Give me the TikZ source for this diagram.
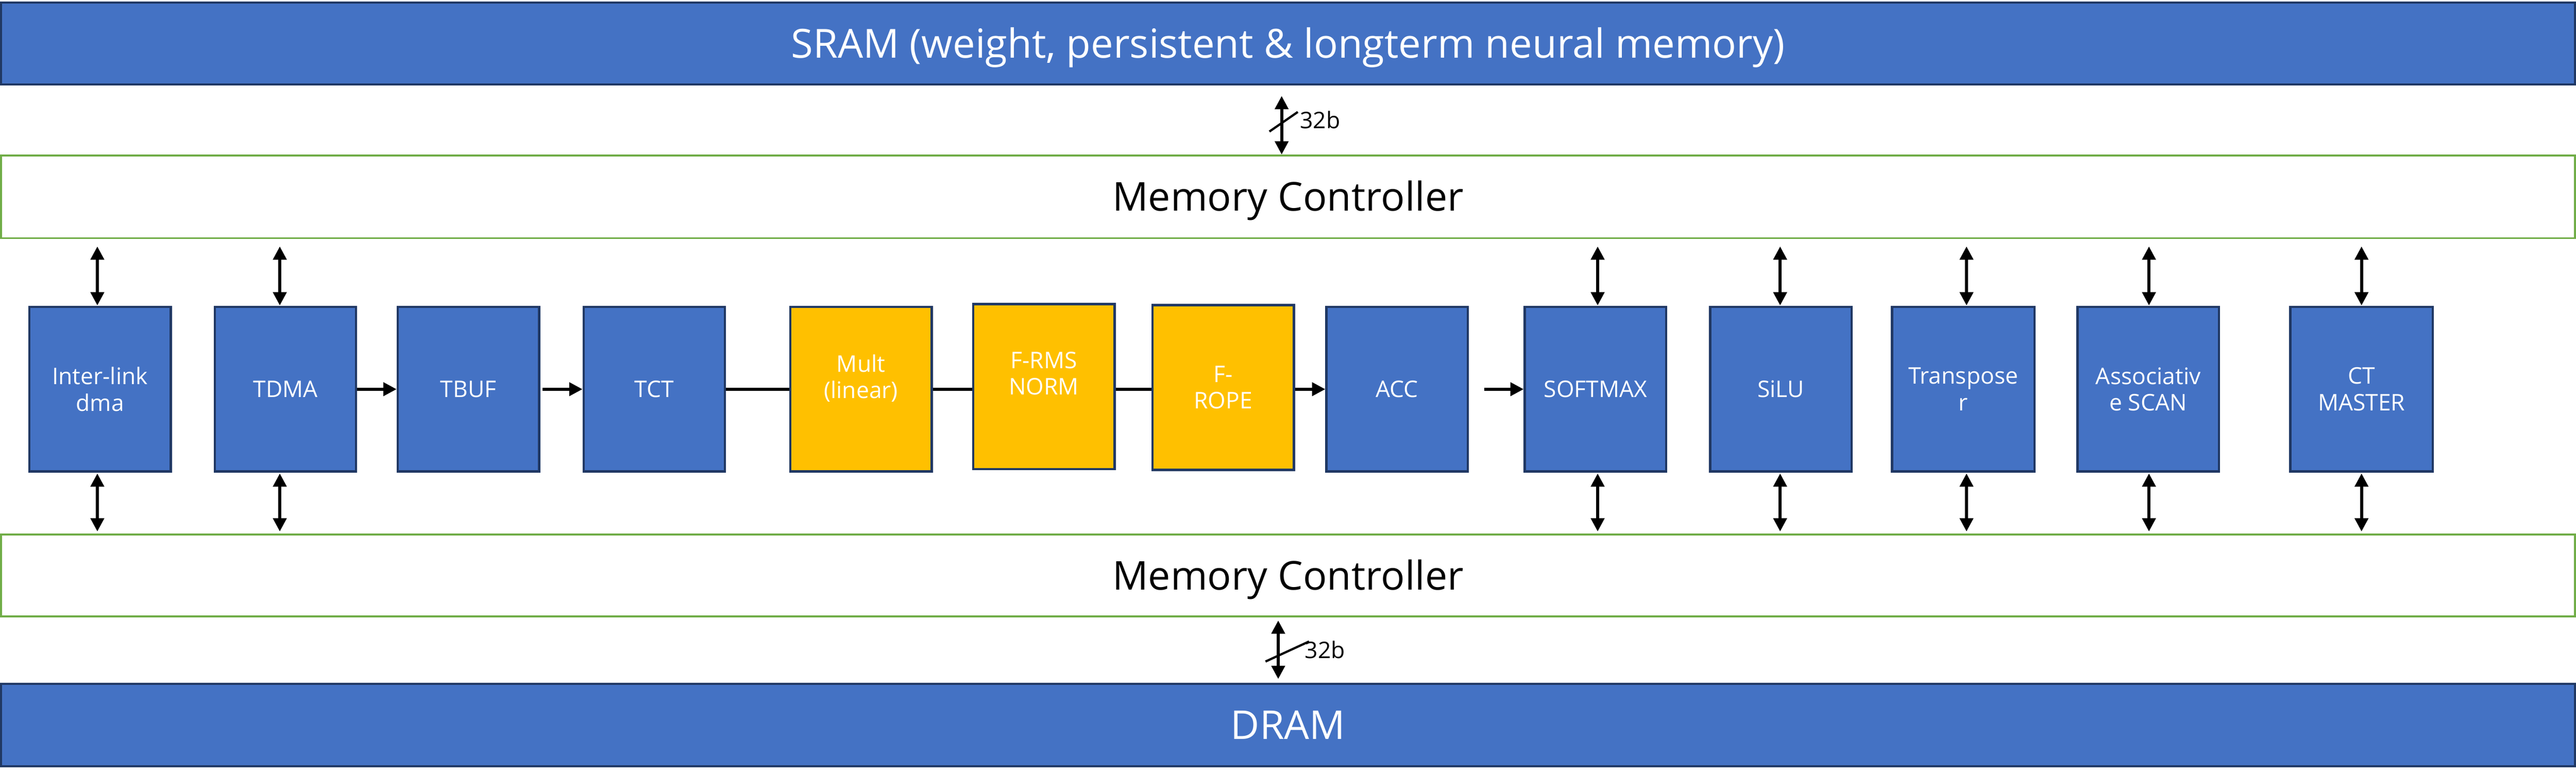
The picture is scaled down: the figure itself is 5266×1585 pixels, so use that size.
\documentclass[tikz,border=0pt]{standalone}
\usepackage{fontspec}
\setmainfont{Open Sans}
\usetikzlibrary{arrows.meta}
\definecolor{pblue}{HTML}{4472C4}
\definecolor{pyel}{HTML}{FFC000}
\definecolor{pnavy}{HTML}{203864}
\definecolor{pgreen}{HTML}{70AD47}
\newcommand\vlinks[2]{%
  \draw[dbl, shorten <=0.15cm, shorten >=0.01cm] ([xshift=#2]#1.north |- mc1.south) -- ([xshift=#2]#1.north);
  \draw[dbl, shorten <=0.02cm, shorten >=0.04cm] ([xshift=#2]#1.south) -- ([xshift=#2]#1.south |- mc2.north);}
\begin{document}
\begin{tikzpicture}[x=0.01cm,y=-0.01cm,
  bluebox/.style={draw=pnavy, fill=pblue, line width=0.045cm, minimum width=2.89cm, minimum height=3.36cm, inner sep=0pt, text=white, align=center, font=\fontsize{13.3pt}{15.4pt}\selectfont},
  yelbox/.style={bluebox, fill=pyel},
  btxt/.style={inner sep=0pt, text=white, align=center, font=\fontsize{13.3pt}{15.4pt}\selectfont},
  bar/.style={draw=pnavy, fill=pblue, line width=0.045cm, minimum width=52.58cm, inner sep=0pt, text=white, text height=16.6pt, text depth=0pt},
  ctrl/.style={draw=pgreen, fill=white, line width=0.04cm, minimum width=52.58cm, minimum height=1.69cm, inner sep=0pt, font=\fontsize{23.1pt}{28pt}\selectfont, text height=16.5pt, text depth=0pt},
  link/.style={line width=0.06cm, -{Triangle[length=0.27cm,width=0.27cm]}},
  plain/.style={line width=0.06cm},
  dbl/.style={line width=0.06cm, {Triangle[length=0.27cm,width=0.27cm]}-{Triangle[length=0.27cm,width=0.27cm]}},
  busmark/.style={line width=0.045cm},
  buslbl/.style={inner sep=0pt, font=\fontsize{13.3pt}{15.4pt}\selectfont},
]
\useasboundingbox (0,0) rectangle (5266,1585);

% memories and controllers
\node[bar, minimum height=1.68cm, font=\fontsize{23.3pt}{28pt}\selectfont] (sram) at (2633,89) {SRAM (weight, persistent \& longterm neural memory)};
\node[ctrl] (mc1) at (2633,402.5) {Memory Controller};
\node[ctrl, minimum height=1.68cm] (mc2) at (2633,1177) {Memory Controller};
\node[bar, minimum height=1.68cm, font=\fontsize{23.1pt}{28pt}\selectfont] (dram) at (2633,1483) {DRAM};

% processing blocks
\node[bluebox] (il) at (204.5,796) {Inter-link\\dma};
\node[bluebox] (tdma) at (583.5,796) {TDMA};
\node[bluebox] (tbuf) at (957.5,796) {TBUF};
\node[bluebox] (tct) at (1337.5,796) {TCT};
\node[yelbox, label={[btxt, yshift=0.22cm]center:{Mult\\(linear)}}] (mult) at (1760,796) {};
\node[yelbox, minimum height=3.37cm, label={[btxt, yshift=0.27cm]center:{F-RMS\\NORM}}] (frms) at (2134,790.5) {};
\node[yelbox, minimum height=3.37cm] (frope) at (2500.5,792.5) {F-\\ROPE};
\node[bluebox] (acc) at (2856,796) {ACC};
\node[bluebox] (smax) at (3261.5,796) {SOFTMAX};
\node[bluebox] (silu) at (3640.5,796) {SiLU};
\node[bluebox, minimum width=2.91cm] (trans) at (4013.5,796) {Transpose\\r};
\node[bluebox] (assoc) at (4391.5,796) {Associativ\\e SCAN};
\node[bluebox, minimum width=2.91cm] (ctm) at (4827.5,796) {CT\\MASTER};

% data path
\draw[link] (tdma.east) -- (tbuf.west);
\draw[link, shorten <=0.05cm] (tbuf.east) -- (tct.west);
\draw[plain] (tct.east) -- (mult.west);
\draw[plain] (mult.east) -- (mult.east -| frms.west);
\draw[plain] (mult.east -| frms.east) -- (mult.east -| frope.west);
\draw[link] (mult.east -| frope.east) -- (acc.west);
\draw[link, shorten <=0.31cm] (acc.east) -- (smax.west);

% controller links
\vlinks{il}{-0.055cm}
\vlinks{tdma}{-0.115cm}
\vlinks{smax}{0.045cm}
\vlinks{silu}{-0.015cm}
\vlinks{trans}{0.065cm}
\vlinks{assoc}{0.015cm}
\vlinks{ctm}{0cm}

% buses
\draw[dbl, shorten <=0.21cm] ([xshift=-0.13cm]sram.south) -- ([xshift=-0.13cm]sram.south |- mc1.north);
\draw[busmark] (2595,269) -- (2653,229);
\node[buslbl, anchor=base west] (w1) at (2657,263) {32b};
\draw[dbl, shorten <=0.06cm, shorten >=0.08cm] ([xshift=-0.2cm]mc2.south) -- ([xshift=-0.2cm]mc2.south |- dram.north);
\draw[busmark] (2587,1353) -- (2676,1312);
\node[buslbl, anchor=base west] (w2) at (2667,1347) {32b};
\end{tikzpicture}
\end{document}
